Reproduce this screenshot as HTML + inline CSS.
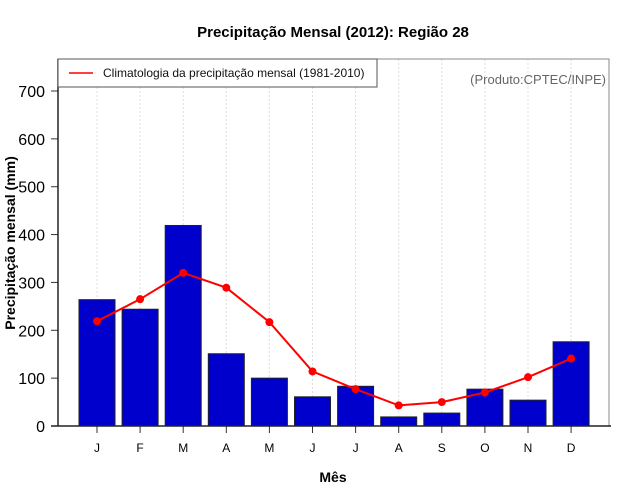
<!DOCTYPE html>
<html><head><meta charset="utf-8"><style>
body{margin:0;background:#fff}
svg{display:block;font-family:"Liberation Sans",sans-serif}
</style></head><body>
<svg id="chart" width="640" height="500">
<text x="333" y="37" text-anchor="middle" font-size="15" font-weight="bold">Precipitação Mensal (2012): Região 28</text>
<text x="333" y="482" text-anchor="middle" font-size="14" font-weight="bold">Mês</text>
<text transform="translate(15,243) rotate(-90)" text-anchor="middle" font-size="14" font-weight="bold">Precipitação mensal (mm)</text>
<g id="grid"></g><g id="bars"></g><g id="line"></g><g id="axes"></g>
<rect x="58" y="59" width="319" height="28" fill="#fff" stroke="#555"/>
<line x1="69" y1="73" x2="93" y2="73" stroke="#f00" stroke-width="1.5"/>
<text x="103" y="77" font-size="12" fill="#111">Climatologia da precipitação mensal (1981-2010)</text>
<text x="606" y="84" text-anchor="end" font-size="13" fill="#666">(Produto:CPTEC/INPE)</text>
</svg>
<script>
const months=["J","F","M","A","M","J","J","A","S","O","N","D"];
const precip2012=[264,244,419,151,100,61,83,19,27,77,54,176];
const climatology=[219,265,320,289,217,114,77,43,50,70,102,141];
const yTicks=[0,100,200,300,400,500,600,700];
const NS="http://www.w3.org/2000/svg";
const L=58,R=609,T=59,B=426;
const xs=i=>97+i*43.1;
const ys=v=>426-v*(335/700);
function mk(tag,attrs,parent){const e=document.createElementNS(NS,tag);for(const k in attrs)e.setAttribute(k,attrs[k]);document.getElementById(parent).appendChild(e);return e;}
months.forEach((m,i)=>{
 const g=mk("line",{x1:xs(i),x2:xs(i),y1:T,y2:B,stroke:"#ddd","stroke-dasharray":"2,2"},"grid");
 
 
 const h=B-ys(precip2012[i]);
 const b=mk("rect",{x:xs(i)-18,y:ys(precip2012[i]),width:36,height:h,fill:"#0000cc",stroke:"#222","stroke-width":1},"bars");
 
 
 const t=mk("line",{x1:xs(i),x2:xs(i),y1:B,y2:433,stroke:"#333"},"axes");
 
 
 const lb=mk("text",{x:xs(i),y:452,"text-anchor":"middle","font-size":12},"axes");
 lb.textContent=m;
 
 
});
const pl=mk("polyline",{points:climatology.map((v,i)=>xs(i)+","+ys(v)).join(" "),fill:"none",stroke:"#f00","stroke-width":2},"line");


climatology.forEach((v,i)=>{
 const c=mk("circle",{cx:xs(i),cy:ys(v),r:4,fill:"#f00"},"line");
 
 
});
yTicks.forEach(v=>{
 const t=mk("line",{x1:51,x2:58,y1:ys(v),y2:ys(v),stroke:"#333"},"axes");
 
 
 const lb=mk("text",{x:45,y:ys(v)+6,"text-anchor":"end","font-size":16},"axes");
 lb.textContent=v;
 
 
});
const fr=mk("rect",{x:L,y:T,width:R-L,height:B-T,fill:"none",stroke:"#888"},"axes");


const ya=mk("line",{x1:L,x2:L,y1:T,y2:B,stroke:"#222","stroke-width":1.5},"axes");


const xa=mk("line",{x1:51,x2:R+2,y1:B,y2:B,stroke:"#222","stroke-width":1.5},"axes");


</script>
</body></html>
